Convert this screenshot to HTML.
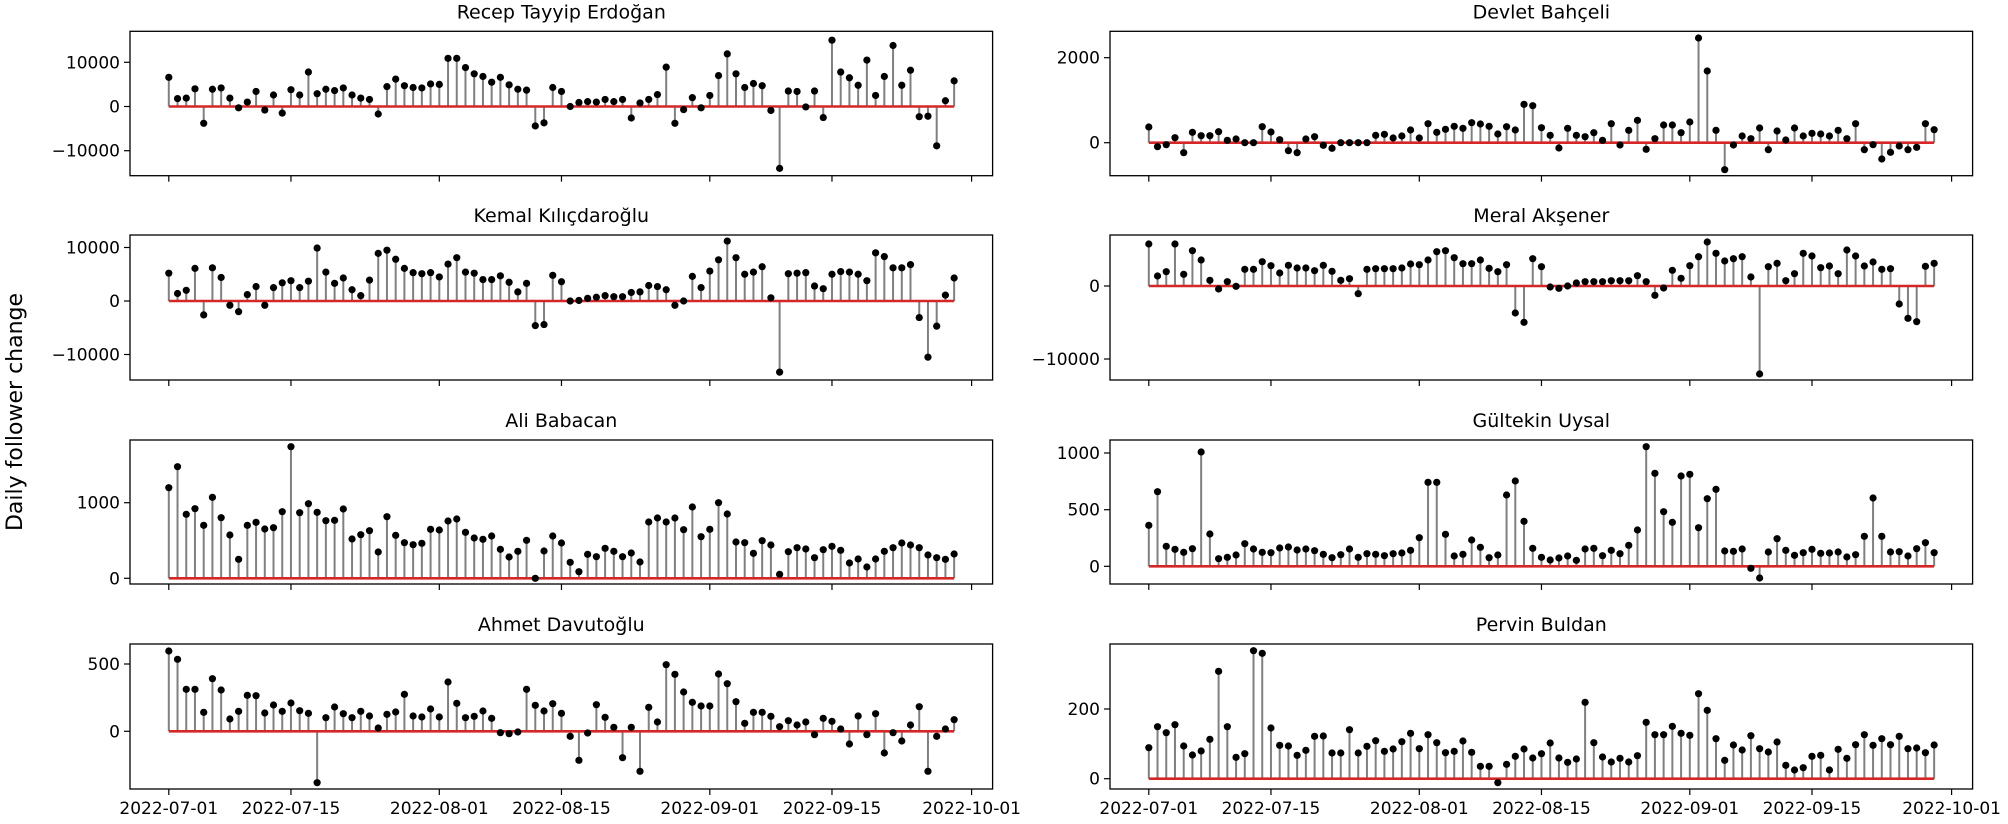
<!DOCTYPE html>
<html><head><meta charset="utf-8"><style>
html,body{margin:0;padding:0;background:#fff;}
svg text{font-family:"DejaVu Sans","Liberation Sans",sans-serif;fill:#000;}
</style></head><body>
<svg id="s" width="2008" height="819" xmlns="http://www.w3.org/2000/svg"></svg>
<script>
const S=document.getElementById('s');let h='';
function fix(a){a=a.slice(0,91);while(a.length<91)a.push(a[a.length-1]);return a;}
const dayL=d=>168.8+8.726*d, dayR=d=>1148.8+8.726*d;
const fs=17;
function panel(o){
 const x0=o.right?1110:130,x1=o.right?1972.6:992.6,top=o.top,bot=o.bot,fx=o.right?dayR:dayL;
 h+=`<text x="${(x0+x1)/2}" y="${top-13}" font-size="19" text-anchor="middle">${o.title}</text>`;
 const ys=fix(o.ys);
 const zy=o.zero;
 for(let i=0;i<91;i++){const x=fx(i);h+=`<line x1="${x}" y1="${zy}" x2="${x}" y2="${ys[i]}" stroke="#808080" stroke-width="2"/>`;}
 h+=`<line x1="${fx(0)}" y1="${zy}" x2="${fx(90)}" y2="${zy}" stroke="#d62728" stroke-width="2.6"/>`;
 for(let i=0;i<91;i++){h+=`<circle cx="${fx(i)}" cy="${ys[i]}" r="3.6" fill="#000"/>`;}
 h+=`<rect x="${x0}" y="${top}" width="${x1-x0}" height="${bot-top}" fill="none" stroke="#000" stroke-width="1.3"/>`;
 for(const [lab,y] of o.ticks){h+=`<line x1="${x0-6}" y1="${y}" x2="${x0}" y2="${y}" stroke="#000" stroke-width="1.2"/><text x="${x0-10}" y="${y+6}" font-size="${fs}" text-anchor="end">${lab}</text>`;}
 const days=[0,14,31,45,62,76,92],labs=['2022-07-01','2022-07-15','2022-08-01','2022-08-15','2022-09-01','2022-09-15','2022-10-01'];
 days.forEach((d,k)=>{const x=fx(d);h+=`<line x1="${x}" y1="${bot}" x2="${x}" y2="${bot+6}" stroke="#000" stroke-width="1.2"/>`;
  if(o.labels)h+=`<text x="${x}" y="${bot+25}" font-size="${fs}" text-anchor="middle">${labs[k]}</text>`;});
}
// Erdogan (thousands)
let er=[6.6,1.8,1.9,4,-3.8,3.9,4.2,1.9,-0.3,1,3.4,-0.8,2.6,-1.5,3.8,2.6,7.8,2.9,3.9,3.6,4.2,2.6,1.9,1.6,-1.7,4.5,6.2,4.7,4.3,4.2,5.1,5,10.9,10.9,8.8,7.4,6.8,5.5,6.6,4.9,3.9,3.7,-4.4,-3.7,4.3,3.4,0,0.9,1.1,1,1.6,1.1,1.6,-2.6,0.8,1.6,2.7,8.9,-3.8,-0.7,2,-0.3,2.5,7,11.9,7.4,4.3,5.2,4.7,-0.9,-14,3.5,3.4,-0.1,3.5,-2.5,15,7.8,6.5,4.8,10.5,2.5,6.8,13.8,4.8,8.2,-2.3,-2.2,-8.9,1.3,5.8];
panel({title:'Recep Tayyip Erdoğan',top:31.3,bot:175.7,zero:106.5,ys:er.map(v=>106.5-v*4.42),ticks:[['10000',62.3],['0',106.5],['−10000',150.7]]});
let kk=[5.2,1.4,2,6.1,-2.6,6.2,4.4,-0.8,-2,1.2,2.7,-0.8,2.5,3.4,3.8,2.5,3.7,9.9,5.4,3.3,4.3,2.1,1,3.9,8.9,9.5,7.8,6.1,5.3,5.1,5.3,4.5,6.9,8.1,5.4,5.2,4,4,4.7,3.5,1.7,3.3,-4.6,-4.4,4.8,3.6,0,0.1,0.5,0.7,1,0.8,0.8,1.6,1.7,2.9,2.7,2.1,-0.8,0,4.6,2.5,5.6,7.7,11.2,8.1,5,5.4,6.4,0.6,-13.3,5.1,5.2,5.3,2.8,2.3,5,5.5,5.4,5,3.8,9,8.3,6.2,6.2,6.8,-3.1,-10.5,-4.7,1.1,4.3];
panel({title:'Kemal Kılıçdaroğlu',top:235,bot:380,zero:301,ys:kk.map(v=>301-v*5.35),ticks:[['10000',247.5],['0',301],['−10000',354.5]]});
let ba=[173,110,253,236,286,202,263,315,388,286,277,297,293,245,50,248,221,247,272,271,237,327,314,302,366,260,316,338,344,340,298,300,273,267,307,324,328,318,358,381,364,331,445,363,318,339,397,425,373,380,355,364,380,369,396,276,264,276,264,299,231,320,298,218,252,336,338,370,332,345,433,365,353,357,383,359,349,361,399,387,411,387,364,353,339,345,353,375,383,388,372];
panel({title:'Ali Babacan',top:440,bot:584,zero:578.3,ys:ba.map(v=>430+v/3),ticks:[['0',578.3],['1000',502.7]]});
let da=[48,73,163,163,232,131,165,252,229,181,182,234,210,229,204,227,235,443,248,216,236,248,229,243,279,238,231,178,243,246,222,246,141,205,248,244,228,250,293,296,291,163,211,228,206,235,304,376,294,209,247,277,368,277,409,217,261,89,118,171,202,213,213,117,146,200,265,232,232,244,275,257,270,261,299,250,259,282,327,243,299,236,354,293,318,270,215,409,304,282,254];
panel({title:'Ahmet Davutoğlu',top:644,bot:789,zero:731.3,ys:da.map(v=>635+v/3),ticks:[['500',664],['0',731.3]],labels:true});
let bh=[321,380,374,353,398,337,347,347,335,361,357,368,368,320,336,359,392,398,357,350,376,385,368,368,368,368,346,343,354,348,330,354,311,337,328,319,325,308,312,319,342,320,330,253,257,323,346,384,325,346,350,338,361,311,375,331,301,388,356,315,315,338,306,54,153,331,449,375,348,356,324,389,333,360,324,348,340,342,348,331,356,311,389,374,417,397,378,389,382,311,329];
panel({right:true,title:'Devlet Bahçeli',top:31.3,bot:175.7,zero:142.7,ys:bh.map(v=>20+v/3),ticks:[['2000',57.7],['0',142.7]]});
let ak=[57,153,140,57,148,77,105,166,192,170,184,133,133,110,122,144,121,129,129,137,121,139,166,161,206,133,131,131,131,129,117,119,105,80,77,98,116,116,105,130,140,119,264,292,101,125,186,190,183,174,170,170,170,167,167,167,152,170,211,189,136,160,122,95,51,85,108,101,95,156,447,125,115,167,146,85,93,128,123,146,75,93,123,111,133,131,237,280,290,124,115];
panel({right:true,title:'Meral Akşener',top:235,bot:380,zero:286,ys:ak.map(v=>225+v/3),ticks:[['0',286],['−10000',359]]});
let uy=[286,185,349,358,367,356,66,312,386,382,375,341,357,367,368,354,351,360,357,362,373,383,374,357,382,371,373,377,371,369,361,323,157,157,313,378,373,330,352,383,375,195,153,274,355,382,390,384,378,391,357,355,377,361,371,346,300,50,130,245,277,138,133,293,206,178,363,364,357,415,444,366,326,361,376,368,358,370,369,366,381,374,319,204,319,366,365,378,356,338,368];
panel({right:true,title:'Gültekin Uysal',top:440,bot:584,zero:566.3,ys:uy.map(v=>430+v/3),ticks:[['1000',453],['500',509.7],['0',566.3]]});
let bu=[338,275,293,269,333,360,348,313,109,275,367,356,47,55,279,331,333,361,346,304,303,354,354,284,354,334,317,349,342,320,295,341,299,323,353,349,318,352,394,394,443,388,364,342,369,356,324,369,382,372,202,323,366,381,370,381,362,262,299,299,274,295,301,176,226,311,376,330,345,302,341,351,321,391,405,398,364,361,405,343,370,329,299,331,311,329,304,341,339,353,330];
panel({right:true,title:'Pervin Buldan',top:644,bot:789,zero:778.7,ys:bu.map(v=>635+v/3),ticks:[['200',709],['0',778.7]],labels:true});
h+=`<text transform="translate(22,412) rotate(-90)" font-size="22" text-anchor="middle">Daily follower change</text>`;
S.innerHTML=h;
</script>
</body></html>
